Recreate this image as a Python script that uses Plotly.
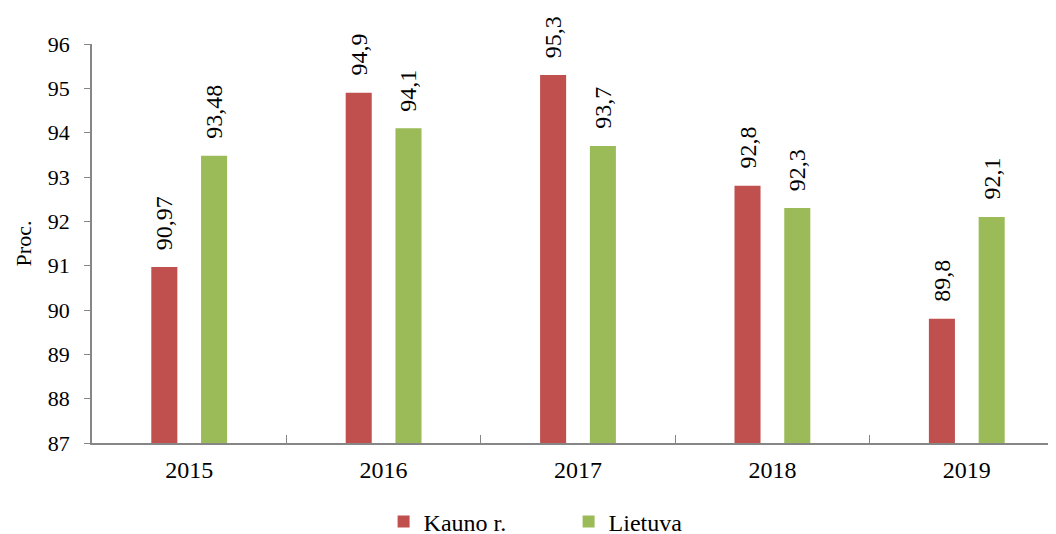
import plotly.graph_objects as go

years = ["2015", "2016", "2017", "2018", "2019"]
kauno = [90.97, 94.9, 95.3, 92.8, 89.8]
lietuva = [93.48, 94.1, 93.7, 92.3, 92.1]
kauno_txt = ["90,97", "94,9", "95,3", "92,8", "89,8"]
lietuva_txt = ["93,48", "94,1", "93,7", "92,3", "92,1"]
y_ticks = [87, 88, 89, 90, 91, 92, 93, 94, 95, 96]

FONT = "Times New Roman"
W = 0.134
OFF = 0.128

fig = go.Figure()
fig.add_trace(go.Bar(
    x=years, y=kauno, name="Kauno r.",
    marker=dict(color="#C0504D", line=dict(width=0)),
    width=W, offset=-OFF - W / 2,
))
fig.add_trace(go.Bar(
    x=years, y=lietuva, name="Lietuva",
    marker=dict(color="#9BBB59", line=dict(width=0)),
    width=W, offset=OFF - W / 2,
))

annotations = []
for i in range(len(years)):
    for dx, val, txt in ((-OFF, kauno[i], kauno_txt[i]), (OFF, lietuva[i], lietuva_txt[i])):
        annotations.append(dict(
            x=i + dx, y=val, xref="x", yref="y", text=txt, showarrow=False,
            textangle=-90, xanchor="center", yanchor="bottom", yshift=15,
            font=dict(family=FONT, size=24, color="black"),
        ))

fig.update_layout(
    width=1056, height=534,
    margin=dict(l=84, r=0, t=36, b=99, autoexpand=False),
    paper_bgcolor="white", plot_bgcolor="white",
    font=dict(family=FONT, size=22, color="black"),
    barmode="group",
    showlegend=True,
    annotations=annotations,
    legend=dict(orientation="h", x=0.30, xanchor="left",
                yref="container", y=0.0375, yanchor="middle",
                font=dict(family=FONT, size=24), entrywidth=140, entrywidthmode="pixels",
                itemwidth=30),
    xaxis=dict(
        type="category", categoryorder="array", categoryarray=years,
        range=[-0.5, 4.5], automargin=False,
        showline=True, linecolor="#868686", linewidth=1.5,
        ticks="inside", tickson="boundaries", ticklen=8, tickcolor="#868686",
        tickfont=dict(family=FONT, size=24), ticklabelstandoff=4,
        showgrid=False, zeroline=False,
    ),
    yaxis=dict(
        range=[87, 96], tickmode="array", tickvals=y_ticks, automargin=False,
        showline=True, linecolor="#868686", linewidth=1.5,
        ticks="outside", ticklen=6, tickcolor="#868686",
        tickfont=dict(family=FONT, size=22), ticklabelstandoff=10,
        showgrid=False, zeroline=False,
        title=dict(text="Proc.", font=dict(family=FONT, size=22), standoff=10),
    ),
)

fig.write_html("out.html")
